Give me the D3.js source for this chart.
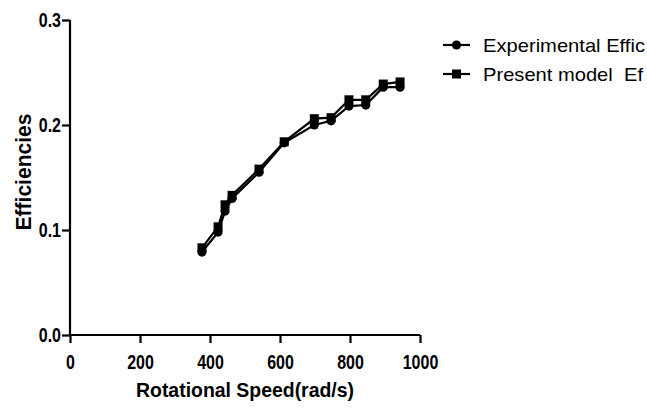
<!DOCTYPE html>
<html><head><meta charset="utf-8">
<script src="https://cdn.jsdelivr.net/npm/d3@7"></script>
<style>
html,body{margin:0;padding:0;background:#fff;overflow:hidden}
svg{display:block}
</style></head>
<body>
<svg id="c" width="647" height="417"></svg>
<script>
const speeds = [377, 423, 443, 463, 540, 612, 698, 746, 797, 845, 895, 943];
const experimental = [0.079, 0.098, 0.118, 0.130, 0.155, 0.183, 0.200, 0.204, 0.218, 0.219, 0.236, 0.236];
const presentModel = [0.083, 0.103, 0.124, 0.133, 0.158, 0.184, 0.206, 0.207, 0.224, 0.224, 0.239, 0.241];
const xTicks = [0, 200, 400, 600, 800, 1000];
const yTicks = [0.0, 0.1, 0.2, 0.3];
const seriesNames = ["Experimental Effic", "Present model  Ef"];

const svg = d3.select("#c");
const x = d3.scaleLinear().domain([0, 1000]).range([70, 420]);
const y = d3.scaleLinear().domain([0, 0.3]).range([335, 20]);

const font = '"Liberation Sans Narrow","Arial Narrow","Liberation Sans",Arial,sans-serif';
function condense(sel, factor) {
  sel.each(function () {
    const len = this.getComputedTextLength();
    d3.select(this).attr("textLength", len * factor).attr("lengthAdjust", "spacingAndGlyphs");
  });
}

const xAxis = svg.append("g").attr("transform", "translate(0,335)")
  .call(d3.axisBottom(x).tickValues(xTicks).tickSize(8).tickPadding(10).tickFormat(d3.format("d")));
const yAxis = svg.append("g").attr("transform", "translate(70,0)")
  .call(d3.axisLeft(y).tickValues(yTicks).tickSize(8).tickPadding(1).tickFormat(d3.format(".1f")));
[xAxis, yAxis].forEach(a => {
  a.select(".domain").attr("stroke", "#000").attr("stroke-width", 2.2);
  a.selectAll(".tick line").attr("stroke", "#000").attr("stroke-width", 2.2);
  a.selectAll(".tick text").attr("fill", "#000").style("font-family", font)
    .style("font-size", "20px").style("font-weight", "bold");
  condense(a.selectAll(".tick text"), 0.8);
});
xAxis.selectAll(".tick text").attr("dy", "0.78em");
xAxis.select(".domain").attr("d", "M70,0H420");
yAxis.select(".domain").attr("d", "M0,20V335");

svg.append("text").attr("x", 245).attr("y", 397).attr("text-anchor", "middle")
  .style("font-family", font).style("font-size", "21px").style("font-weight", "bold")
  .attr("textLength", 218).attr("lengthAdjust", "spacingAndGlyphs")
  .text("Rotational Speed(rad/s)");
svg.append("text").attr("transform", "translate(31,172) rotate(-90)").attr("text-anchor", "middle")
  .style("font-family", font).style("font-size", "22px").style("font-weight", "bold")
  .attr("textLength", 117).attr("lengthAdjust", "spacingAndGlyphs")
  .text("Efficiencies");

const line = d3.line().x(d => x(d[0])).y(d => y(d[1]));
const expData = speeds.map((s, i) => [s, experimental[i]]);
const modData = speeds.map((s, i) => [s, presentModel[i]]);

svg.append("path").datum(expData).attr("d", line).attr("fill", "none").attr("stroke", "#000").attr("stroke-width", 2.2);
svg.append("path").datum(modData).attr("d", line).attr("fill", "none").attr("stroke", "#000").attr("stroke-width", 2.2);

svg.selectAll("circle.exp").data(expData).enter().append("circle").attr("class", "exp")
  .attr("cx", d => x(d[0])).attr("cy", d => y(d[1])).attr("r", 4.6).attr("fill", "#000");
const sq = 9;
svg.selectAll("rect.mod").data(modData).enter().append("rect").attr("class", "mod")
  .attr("x", d => x(d[0]) - sq / 2).attr("y", d => y(d[1]) - sq / 2).attr("width", sq).attr("height", sq).attr("fill", "#000");

// legend
const legendY = [45, 74];
legendY.forEach((ly, i) => {
  svg.append("line").attr("x1", 443).attr("x2", 470).attr("y1", ly).attr("y2", ly).attr("stroke", "#000").attr("stroke-width", 2.2);
  if (i === 0) svg.append("circle").attr("cx", 456.5).attr("cy", ly).attr("r", 4.6).attr("fill", "#000");
  else svg.append("rect").attr("x", 456.5 - sq / 2).attr("y", ly - sq / 2).attr("width", sq).attr("height", sq).attr("fill", "#000");
  svg.append("text").attr("x", 483).attr("y", ly + 7).style("font-family", font).style("font-size", "19px")
    .attr("xml:space", "preserve").style("white-space", "pre")
    .attr("textLength", i === 0 ? 162 : 160).attr("lengthAdjust", "spacingAndGlyphs")
    .text(seriesNames[i]);
});
</script>
</body></html>
